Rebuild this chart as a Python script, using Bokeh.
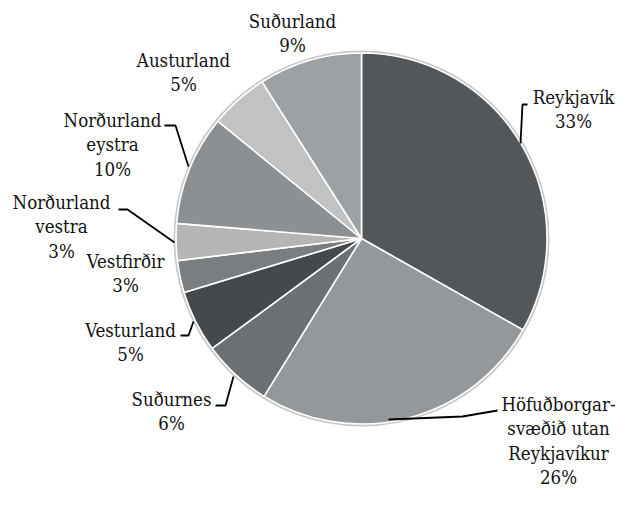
import math
from bokeh.plotting import figure
from bokeh.models import Range1d, ColumnDataSource
from bokeh.core.properties import value
from bokeh.embed import file_html
from bokeh.resources import INLINE

# ---- data ----
regions = ["Reykjavík", "Höfuðborgar-\nsvæðið utan\nReykjavíkur", "Suðurnes",
           "Vesturland", "Vestfirðir", "Norðurland\nvestra", "Norðurland\neystra",
           "Austurland", "Suðurland"]
shares = [33.2, 25.6, 6.1, 5.4, 2.8, 3.2, 9.6, 5.1, 9.0]
colors = ["#535759", "#95989a", "#6d7072", "#46494b", "#7b7e80",
          "#b3b5b7", "#8d9092", "#c0c2c3", "#9ea1a3"]

# ---- layout (pixels, y downward; anchors are first-line baselines) ----
CX, CY, R = 361, 238, 185.5
label_anchor = [(573, 103), (558, 410), (171, 405), (130, 336), (125, 267),
                (61, 208), (112, 126), (183, 66), (292, 27)]
leaders = {
    0: [(520, 143), (522, 104), (527, 104)],
    1: [(388, 419), (462, 416), (497, 410)],
    2: [(215, 405), (225, 405), (233, 376)],
    3: [(180, 335), (188, 335), (193, 321)],
    5: [(118, 209), (127, 209), (174, 242)],
    6: [(164, 125), (175, 125), (188, 166)],
}
LINE = 24.5
FONT = value("DejaVu Serif Condensed")
FS = "18.5px"
BASE_FIX = 6.3  # renderer draws "alphabetic" text this far below the anchor

W, H = 617, 492
p = figure(width=W, height=H, output_backend="svg", toolbar_location=None,
           x_range=Range1d(0, W), y_range=Range1d(-H, 0), min_border=0)
p.axis.visible = False
p.grid.visible = False
p.outline_line_color = None
p.background_fill_color = "white"
p.border_fill_color = "white"

total = sum(shares)
starts, ends = [], []
cum = 0.0
for s in shares:
    a = cum / total
    cum += s
    b = cum / total
    starts.append(math.pi / 2 - 2 * math.pi * b)
    ends.append(math.pi / 2 - 2 * math.pi * a)

src = ColumnDataSource(dict(start=starts, end=ends, color=colors))

p.circle(x=CX, y=-CY, radius=R + 1.2, fill_color=None, line_color="#c8c8c8", line_width=2.5)
p.wedge(x=CX, y=-CY, radius=R, start_angle="start", end_angle="end",
        direction="anticlock", fill_color="color", line_color="white",
        line_width=1.6, source=src)

for i, pts in leaders.items():
    p.line([q[0] for q in pts], [-q[1] for q in pts], line_color="black", line_width=1.8)

tx, ty, tt = [], [], []
for i, name in enumerate(regions):
    lines = name.split("\n") + [f"{round(shares[i])}%"]
    ax, ay = label_anchor[i]
    for k, ln in enumerate(lines):
        tx.append(ax)
        ty.append(-(ay + k * LINE - BASE_FIX))
        tt.append(ln)
tsrc = ColumnDataSource(dict(x=tx, y=ty, text=tt))
p.text(x="x", y="y", text="text", text_font=FONT, text_font_size=FS,
       text_align="center", text_baseline="alphabetic", text_color="#111111", source=tsrc)

open("out.html", "w").write(file_html(p, INLINE))
